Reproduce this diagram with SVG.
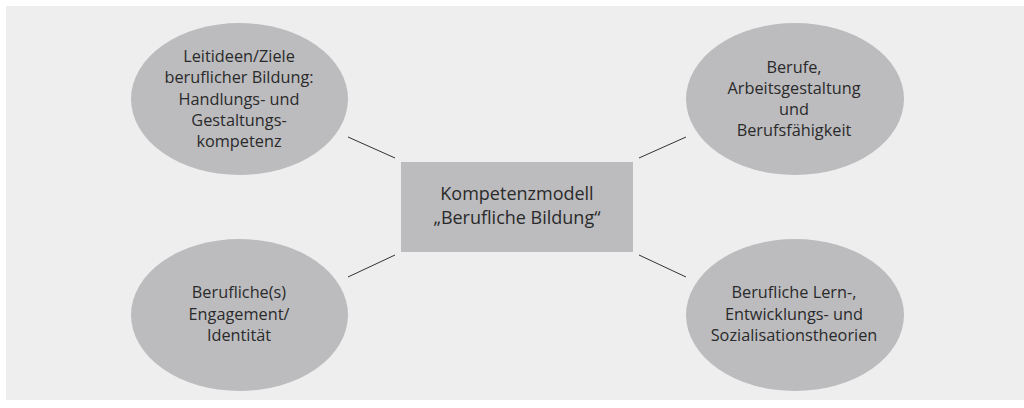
<svg xmlns="http://www.w3.org/2000/svg" width="1024" height="408" viewBox="0 0 1024 408">
<style>
.bg{fill:#eeeeee}
.node{fill:#bcbcbf}
.t{font-family:"Open Sans","Liberation Sans",sans-serif;font-size:16.3px;fill:#2a2a2a;text-anchor:middle}
.c{font-size:18px}
.conn line{stroke:#333333;stroke-width:1}
</style>
<rect width="1024" height="408" fill="#ffffff"/>
<rect class="bg" x="6" y="6" width="1018" height="394"/>
<g id="connectors" class="conn">
<line x1="348" y1="137" x2="395" y2="158"/>
<line x1="639" y1="158" x2="686" y2="137"/>
<line x1="348" y1="277" x2="395" y2="255"/>
<line x1="639" y1="255" x2="686" y2="277"/>
</g>
<g id="center">
<rect class="node" x="401" y="162" width="232" height="90"/>
<text class="t c" x="517" y="200">Kompetenzmodell</text>
<text class="t c" x="517" y="224">„Berufliche Bildung“</text>
</g>
<g id="leitideen">
<ellipse class="node" cx="239.5" cy="99" rx="108.5" ry="76"/>
<text class="t" x="239" y="62">Leitideen/Ziele</text>
<text class="t" x="239" y="83.3">beruflicher Bildung:</text>
<text class="t" x="239" y="104.6">Handlungs- und</text>
<text class="t" x="239" y="125.9">Gestaltungs-</text>
<text class="t" x="239" y="147.2">kompetenz</text>
</g>
<g id="berufe">
<ellipse class="node" cx="795" cy="99" rx="109" ry="76"/>
<text class="t" x="794" y="73">Berufe,</text>
<text class="t" x="794" y="94">Arbeitsgestaltung</text>
<text class="t" x="794" y="115">und</text>
<text class="t" x="794" y="136">Berufsfähigkeit</text>
</g>
<g id="engagement">
<ellipse class="node" cx="239.5" cy="315" rx="108.5" ry="76"/>
<text class="t" x="239" y="298">Berufliche(s)</text>
<text class="t" x="239" y="319.5">Engagement/</text>
<text class="t" x="239" y="341">Identität</text>
</g>
<g id="theorien">
<ellipse class="node" cx="795" cy="315" rx="109" ry="76"/>
<text class="t" x="794" y="298">Berufliche Lern-,</text>
<text class="t" x="794" y="319.5">Entwicklungs- und</text>
<text class="t" x="794" y="341">Sozialisationstheorien</text>
</g>
</svg>
